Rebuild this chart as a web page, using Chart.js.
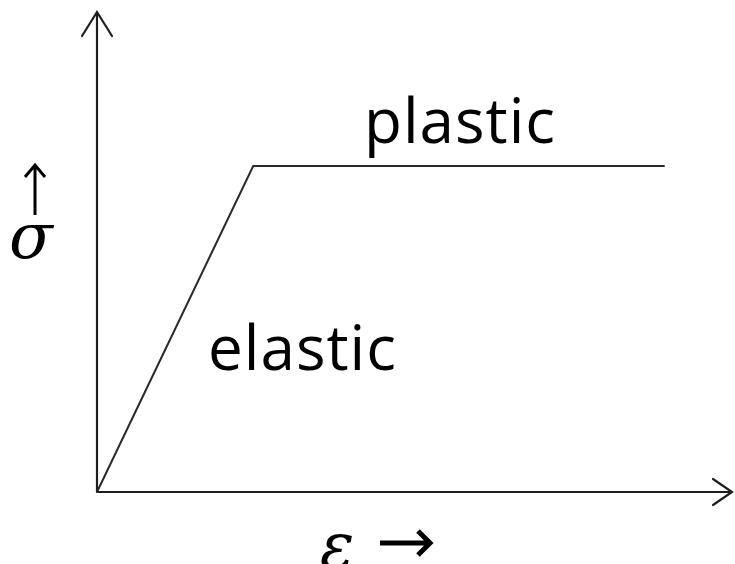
<!DOCTYPE html>
<html>
<head>
<meta charset="utf-8">
<script src="https://cdn.jsdelivr.net/npm/chart.js@4"></script>
<style>
  body { margin: 0; background: #fff; }
</style>
</head>
<body>
<canvas id="graph" width="735" height="564"></canvas>
<script>
// strain / stress of the idealised elastic-plastic curve (arbitrary units)
const strain = [0, 24.6, 89.4];
const stress = [0, 67.9, 67.9];
const regionLabels = ['elastic', 'plastic'];
const axisLabels = ['σ', 'ε'];

const points = strain.map((x, i) => ({ x: x, y: stress[i] }));

// draws the two arrowed axes and the text labels
const sketch = {
  id: 'sketch',
  beforeDatasetsDraw(chart) {
    const ctx = chart.ctx;
    const a = chart.chartArea;
    ctx.save();
    ctx.strokeStyle = '#1e1e1e';
    ctx.lineWidth = 2.2;
    ctx.lineCap = 'round';
    ctx.beginPath();
    ctx.moveTo(a.left, a.bottom);
    ctx.lineTo(a.left, a.top);
    ctx.moveTo(a.left - 15, a.top + 24);
    ctx.lineTo(a.left, a.top);
    ctx.lineTo(a.left + 15, a.top + 24);
    ctx.moveTo(a.left, a.bottom);
    ctx.lineTo(a.right, a.bottom);
    ctx.moveTo(a.right - 19, a.bottom - 13);
    ctx.lineTo(a.right, a.bottom);
    ctx.lineTo(a.right - 19, a.bottom + 13);
    ctx.stroke();
    ctx.restore();
  },
  afterDraw(chart) {
    const ctx = chart.ctx;
    ctx.save();
    ctx.fillStyle = '#000';
    ctx.textBaseline = 'alphabetic';
    ctx.font = '62px "Open Sans"';
    ctx.letterSpacing = '1px';
    ctx.fillText(regionLabels[0], 208, 370);
    ctx.fillText(regionLabels[1], 364, 143);
    ctx.letterSpacing = '0px';
    // sigma with an up arrow
    ctx.font = 'italic 64px "DejaVu Serif"';
    ctx.fillText(axisLabels[0], 9, 258);
    ctx.strokeStyle = '#000';
    ctx.lineWidth = 3;
    ctx.beginPath();
    ctx.moveTo(35, 215); ctx.lineTo(35, 165);
    ctx.moveTo(25, 177); ctx.lineTo(35, 165); ctx.lineTo(45, 177);
    ctx.stroke();
    // epsilon with a right arrow
    ctx.fillText(axisLabels[1], 320, 568);
    ctx.lineWidth = 5;
    ctx.beginPath();
    ctx.moveTo(380, 543); ctx.lineTo(429, 543);
    ctx.moveTo(418, 531); ctx.lineTo(430, 543); ctx.lineTo(418, 555);
    ctx.stroke();
    ctx.restore();
  }
};

new Chart(document.getElementById('graph'), {
  type: 'scatter',
  data: {
    datasets: [{
      data: points,
      showLine: true,
      borderColor: '#2a2a2a',
      borderWidth: 2,
      pointRadius: 0,
      clip: false
    }]
  },
  options: {
    responsive: false,
    animation: false,
    layout: { padding: { left: 97, top: 12, right: 3, bottom: 72 } },
    plugins: { legend: { display: false }, tooltip: { enabled: false } },
    scales: {
      x: { type: 'linear', min: 0, max: 100, display: false },
      y: { type: 'linear', min: 0, max: 100, display: false }
    }
  },
  plugins: [sketch]
});
</script>
</body>
</html>
